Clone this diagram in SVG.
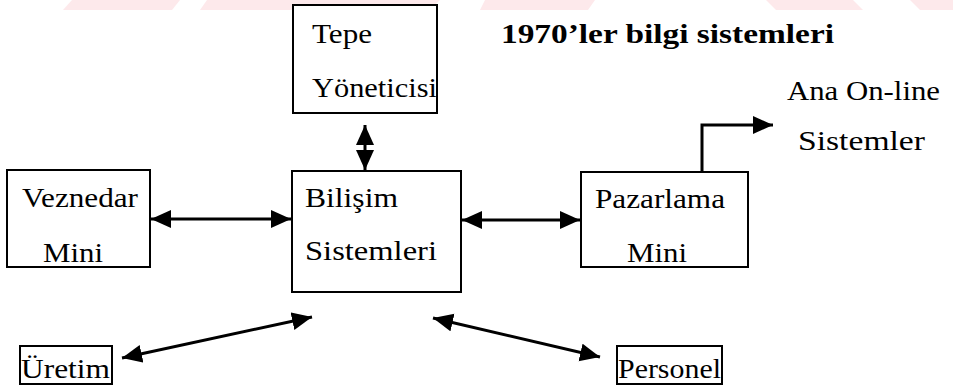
<svg xmlns="http://www.w3.org/2000/svg" width="953" height="390" viewBox="0 0 953 390">
  <style>
    .box { fill: #ffffff; stroke: #000000; stroke-width: 2; }
    .lbl { font-family: "Liberation Serif", "Times New Roman", serif; font-size: 27px; fill: #000000; }
    .title { font-family: "Liberation Serif", "Times New Roman", serif; font-size: 28px; font-weight: bold; fill: #000000; }
    .link { fill: none; stroke: #000000; stroke-width: 3; }
    .band { fill: #fde9eb; }
  </style>
  <defs>
    <marker id="head" markerUnits="userSpaceOnUse" markerWidth="22" markerHeight="20" refX="20" refY="9" orient="auto-start-reverse">
      <path d="M0,0 L20,9 L0,18 Z" fill="#000000"/>
    </marker>
  </defs>

  <rect width="953" height="390" fill="#ffffff"/>

  <!-- faint banner strip along the top edge -->
  <g id="banner">
    <polygon class="band" points="72,0 180,0 172,10 63,10"/>
    <polygon class="band" points="207,0 440,0 430,10 200,10"/>
    <polygon class="band" points="485,0 595,0 588,10 480,10"/>
    <polygon class="band" points="766,0 853,0 863,10 776,10"/>
    <polygon class="band" points="910,0 953,0 953,10 920,10"/>
  </g>

  <text class="title" x="501" y="43" textLength="333" lengthAdjust="spacingAndGlyphs">1970’ler bilgi sistemleri</text>

  <g id="connectors">
    <line class="link" x1="365" y1="125" x2="365" y2="170" marker-start="url(#head)" marker-end="url(#head)"/>
    <line class="link" x1="151" y1="219" x2="291" y2="219" marker-start="url(#head)" marker-end="url(#head)"/>
    <line class="link" x1="462" y1="220" x2="580" y2="220" marker-start="url(#head)" marker-end="url(#head)"/>
    <polyline class="link" points="702,172 702,125 773,125" stroke-width="2.5" marker-end="url(#head)"/>
    <line class="link" x1="122" y1="358" x2="312" y2="317" marker-start="url(#head)" marker-end="url(#head)"/>
    <line class="link" x1="433" y1="318" x2="600" y2="357" marker-start="url(#head)" marker-end="url(#head)"/>
  </g>

  <g id="tepe">
    <rect class="box" x="293" y="5" width="144" height="108"/>
    <text class="lbl" x="312" y="43" textLength="60" lengthAdjust="spacingAndGlyphs">Tepe</text>
    <text class="lbl" x="312" y="97" textLength="125" lengthAdjust="spacingAndGlyphs">Yöneticisi</text>
  </g>

  <g id="veznedar">
    <rect class="box" x="7" y="170" width="143" height="97"/>
    <text class="lbl" x="22" y="207" textLength="116" lengthAdjust="spacingAndGlyphs">Veznedar</text>
    <text class="lbl" x="43" y="262" textLength="60" lengthAdjust="spacingAndGlyphs">Mini</text>
  </g>

  <g id="bilisim">
    <rect class="box" x="292" y="171" width="169" height="121"/>
    <text class="lbl" x="305" y="207" textLength="93" lengthAdjust="spacingAndGlyphs">Bilişim</text>
    <text class="lbl" x="305" y="260" textLength="132" lengthAdjust="spacingAndGlyphs">Sistemleri</text>
  </g>

  <g id="pazarlama">
    <rect class="box" x="581" y="172" width="167" height="95"/>
    <text class="lbl" x="595" y="208" textLength="130" lengthAdjust="spacingAndGlyphs">Pazarlama</text>
    <text class="lbl" x="627" y="262" textLength="60" lengthAdjust="spacingAndGlyphs">Mini</text>
  </g>

  <g id="online">
    <text class="lbl" x="787" y="100" textLength="153" lengthAdjust="spacingAndGlyphs">Ana On-line</text>
    <text class="lbl" x="798" y="150" textLength="127" lengthAdjust="spacingAndGlyphs">Sistemler</text>
  </g>

  <g id="uretim">
    <rect class="box" x="20" y="346" width="92" height="38" stroke-width="1.5"/>
    <text class="lbl" x="21" y="378" textLength="89" lengthAdjust="spacingAndGlyphs">Üretim</text>
  </g>

  <g id="personel">
    <rect class="box" x="617" y="346" width="105" height="38" stroke-width="1.5"/>
    <text class="lbl" x="618" y="378" textLength="103" lengthAdjust="spacingAndGlyphs">Personel</text>
  </g>
</svg>
